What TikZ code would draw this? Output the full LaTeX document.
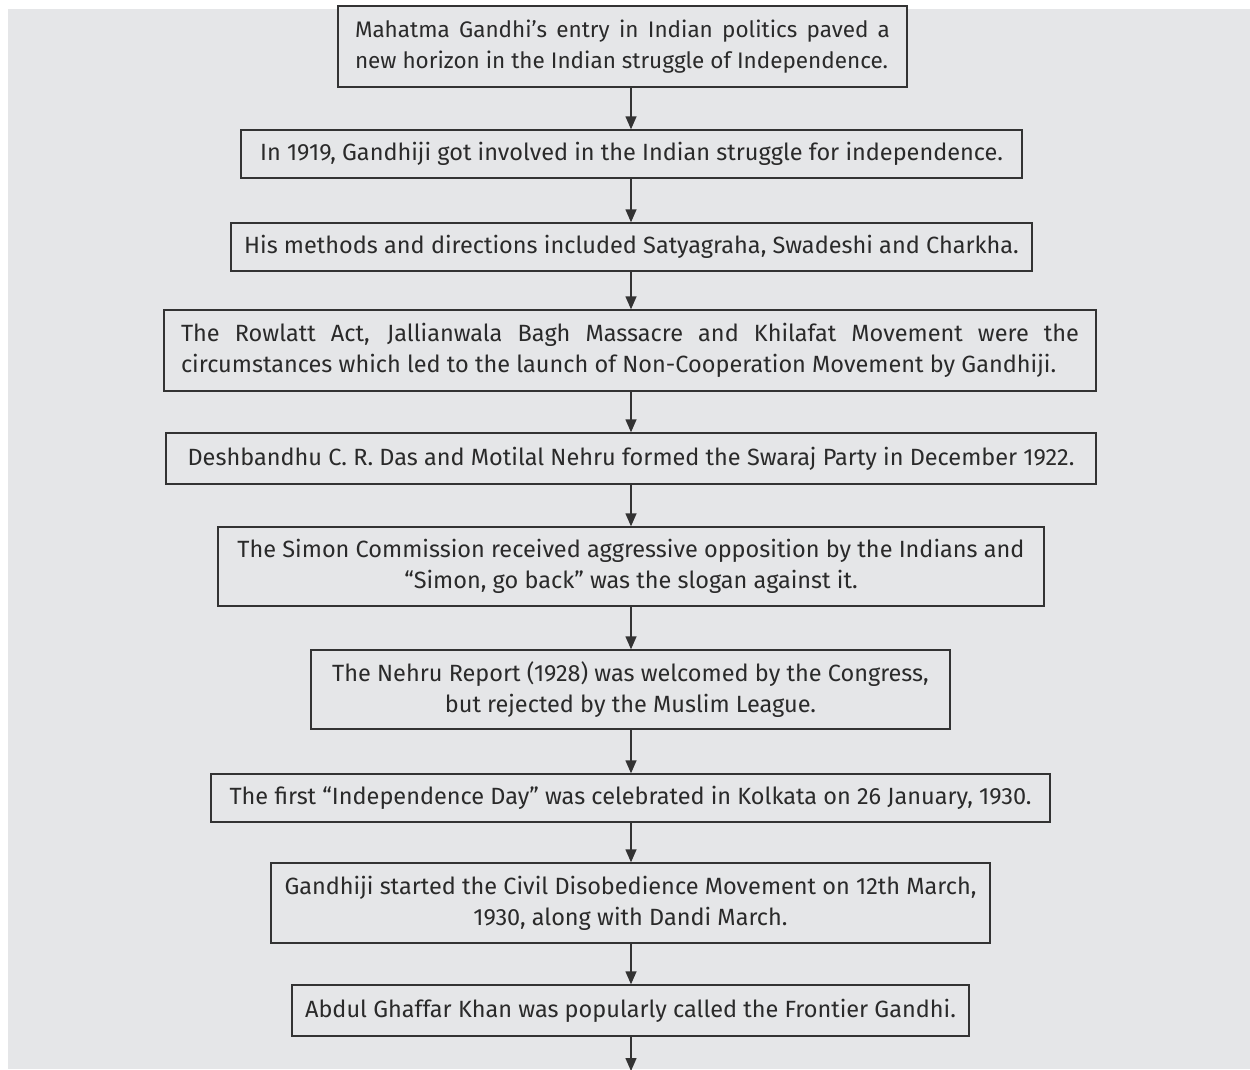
\documentclass[tikz,border=0pt]{standalone}
\usepackage{fontspec}
\setmainfont{Fira Sans}
\usetikzlibrary{arrows.meta}
\definecolor{bgc}{HTML}{E5E6E8}
\definecolor{linec}{HTML}{333333}
\definecolor{txtc}{HTML}{2A2A2A}
\tikzset{
  box/.style={draw=linec, line width=1.4pt, fill=bgc, text=txtc, inner sep=0pt,
    font=\fontsize{23.5}{31}\selectfont, align=center, anchor=center},
  jbox/.style={box, align=justify},
  arr/.style={draw=linec, line width=1.4pt, -{Triangle[length=13pt,width=11pt]}}
}
\begin{document}
\begin{tikzpicture}[x=1pt,y=-1pt]
\useasboundingbox (0,0) rectangle (1250,1069);
\clip (0,0) rectangle (1250,1069);
\fill[bgc] (8,9) rectangle (1250,1069);
\coordinate (ax) at (631,0);
\coordinate (bot) at (631,1071);

\node[jbox, minimum width=569pt, minimum height=81pt, text width=535pt, font=\fontsize{22.5}{31}\selectfont] (b1) at (622.5,46.5)
  {\hyphenpenalty=10000 Mahatma Gandhi’s entry in Indian politics paved a\linebreak new horizon in the Indian struggle of Independence.};
\node[box, minimum width=781pt, minimum height=48pt] (b2) at (631.5,154)
  {In 1919, Gandhiji got involved in the Indian struggle for independence.};
\node[box, minimum width=801pt, minimum height=48pt] (b3) at (631.5,247)
  {His methods and directions included Satyagraha, Swadeshi and Charkha.};
\node[jbox, minimum width=932pt, minimum height=81pt, text width=898pt] (b4) at (630,350.5)
  {\hyphenpenalty=10000 The Rowlatt Act, Jallianwala Bagh Massacre and Khilafat Movement were the\linebreak circumstances which led to the launch of Non-Cooperation Movement by Gandhiji.};
\node[box, minimum width=930pt, minimum height=51pt] (b5) at (631,458.5)
  {Deshbandhu C. R. Das and Motilal Nehru formed the Swaraj Party in December 1922.};
\node[box, minimum width=826pt, minimum height=79pt] (b6) at (631,566.5)
  {The Simon Commission received aggressive opposition by the Indians and\\“Simon, go back” was the slogan against it.};
\node[box, minimum width=639pt, minimum height=79pt] (b7) at (630.5,689.5)
  {The Nehru Report (1928) was welcomed by the Congress,\\but rejected by the Muslim League.};
\node[box, minimum width=839pt, minimum height=48pt] (b8) at (630.5,798)
  {The first “Independence Day” was celebrated in Kolkata on 26 January, 1930.};
\node[box, minimum width=719pt, minimum height=80pt] (b9) at (630.5,903)
  {Gandhiji started the Civil Disobedience Movement on 12th March,\\1930, along with Dandi March.};
\node[box, minimum width=677pt, minimum height=51pt] (b10) at (630.5,1010.5)
  {Abdul Ghaffar Khan was popularly called the Frontier Gandhi.};

\draw[arr] (b1.south -| ax) -- (b2.north -| ax);
\draw[arr] (b2.south -| ax) -- (b3.north -| ax);
\draw[arr] (b3.south -| ax) -- (b4.north -| ax);
\draw[arr] (b4.south -| ax) -- (b5.north -| ax);
\draw[arr] (b5.south -| ax) -- (b6.north -| ax);
\draw[arr] (b6.south -| ax) -- (b7.north -| ax);
\draw[arr] (b7.south -| ax) -- (b8.north -| ax);
\draw[arr] (b8.south -| ax) -- (b9.north -| ax);
\draw[arr] (b9.south -| ax) -- (b10.north -| ax);
\draw[arr] (b10.south -| ax) -- (bot);
\end{tikzpicture}
\end{document}
